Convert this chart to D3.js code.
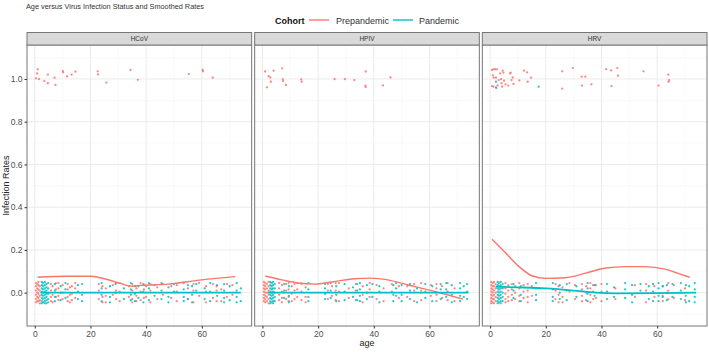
<!DOCTYPE html>
<html>
<head>
<meta charset="utf-8">
<script src="https://cdn.jsdelivr.net/npm/d3@7"></script>
<style>
  body { margin: 0; background: #fff; }
  svg { display: block; font-family: "Liberation Sans", Arial, sans-serif; }
</style>
</head>
<body>
<svg id="chart" width="709" height="352"></svg>
<script>
// facets and cohorts
var facets = ["HCoV", "HPIV", "HRV"];
var cohorts = ["Prepandemic", "Pandemic"];
var xTicks = [0, 20, 40, 60];
var yTicks = [0, 0.2, 0.4, 0.6, 0.8, 1.0];

// infected (jittered round 1) : [age, rate]
var hcovPreHigh = [[0.4,1.003],[0.8,1.026],[1.1,1.045],[1.5,0.999],[3.4,0.99],[4.7,1.02],[4.7,0.98],
  [7.1,1.006],[7.4,0.972],[10.1,1.037],[10.2,1.031],[11.6,1.012],[13.2,1.02],[14.6,1.034],
  [22.6,1.036],[22.7,1.022],[25.7,0.983],[34.4,1.042],[37,0.996],[55.3,1.023],[60.3,1.042],[60.4,1.036],[63.9,1.006]];
var hpivPreHigh = [[0.97,1.035],[1.6,0.961],[2.2,1.013],[2.8,1.007],[3.0,0.987],[4.0,1.039],[7.1,1.05],
  [7.3,0.998],[7.4,0.99],[8.4,0.972],[13.9,0.998],[14.1,0.987],[25.9,0.999],[29.6,0.999],[33,0.995],
  [37.1,1.035],[37,0.969],[37.1,0.963],[43.3,0.97],[46,1.007]];
var hrvPreHigh = [[0.7,1.042],[1.2,1.045],[1.8,1.046],[2.5,1.045],[0.95,1.017],[1.3,1.006],[2.1,1.006],
  [0.7,0.967],[1.2,0.964],[2.1,0.961],[2.7,0.97],[3.1,0.995],[3.6,1.026],[3.95,0.999],[4.1,0.98],
  [4.3,0.964],[4.5,1.039],[4.8,1.03],[5.0,0.992],[5.5,0.975],[6.5,0.969],[7.2,1.026],[7.4,1.03],
  [7.7,0.995],[8.1,1.007],[8.4,0.977],[10.5,0.993],[12.2,1.039],[13.3,1.031],[13.5,0.987],[14.7,1.006],
  [25.9,1.036],[25.9,0.955],[29.7,1.051],[32.9,1.011],[33.0,0.969],[34.2,1.011],[36.4,0.975],
  [41.7,1.046],[43.5,1.04],[43.6,0.967],[45.7,1.051],[45.9,1.015],[55.1,1.036],[60.5,0.969],
  [64.0,1.02],[64.1,0.987],[64.3,0.995]];
var hrvPanHigh = [[2.1,0.987],[2.2,0.958],[17.4,0.964]];

// not infected (jittered round 0) : [age, rate, rate, ...]
var hcovPreZero = [[0.4,.045,.03,.01,-.01,-.03,-.045],[0.9,.04,.02,0,-.02,-.04],[1.3,.05,.035,.015,-.005,-.025,-.04],
  [1.8,.03,.01,-.015,-.035,-.05],[5.8,.04,.01,-.02,-.04],[6.4,.03,-.01,-.045],[7.6,.045,.015,-.02],[8.5,.045,.02,-.015,-.035],
  [10,.035,0,-.03],[11.8,.04,.015,-.02,-.04],[12.6,.025,-.01,-.045],[13.3,.03,-.005,-.035],[14.5,.045,.02,-.025],[23,.04,.01,-.03],
  [24.3,.03,-.02,-.045],[25.5,.02,-.015,-.045],[28,.035,-.01],[29.2,.045,.01,-.03],[30.5,.045,.005,-.04],[33.8,.03,-.02],[35,.04,.01,-.03,-.045],
  [36.5,.02,-.015,-.04],[38,.045,.005,-.035],[39.2,.035,.015,-.025],[40,.03,-.02],[41.5,.04,.01,-.045],[44,.025,-.03],[46,.04,-.01],
  [49,.03,-.025],[51,.035,.005,-.04],[55,.02,-.03],[57,.04,.01,-.045],[59,.045,-.015],[61.5,.03,.005,-.045],[64,.04,-.025],
  [65.3,.03,.01,-.04],[67,.015,-.04],[69,.04,-.02],[71,.035,-.01]];
var hcovPanZero = [[2.5,.05,.035,.02,.005,-.01,-.025,-.04,-.05],[3,.045,.03,.015,0,-.015,-.03,-.045],
  [3.6,.05,.035,.02,.005,-.01,-.025,-.04,-.05],[4.2,.04,.025,.01,-.005,-.02,-.035,-.05],[4.8,.045,.02,-.005,-.03,-.045],
  [7.2,.04,.01,-.02,-.04],[9.3,.03,0,-.035],[11,.045,.015,-.025],[15.5,.035,.005,-.03],[17,.04,-.01,-.04],
  [24,.045,.02,-.01,-.04],[27,.03,-.02,-.045],[29,.04,0],[32,.02,-.03],[34.5,.045,.015,-.01,-.035],[36,.03,-.005,-.04],[37.2,.03,-.025],
  [39,.04,.005,-.045],[41,.045,.02,-.035],[43,.035,-.015],[45.5,.045,.01,-.03],[48,.025,-.02,-.045],[50,.04,.005],
  [53.5,.045,.015,-.02,-.04],[55,.035,-.03],[56.5,.03,-.01,-.045],[58,.04,.01],[61,.02,-.03],[63,.045,.005,-.04],[65.5,.035,-.015],
  [68,.04,.01,-.025,-.045],[70,.03,-.035],[72.5,.045,.01,-.02,-.045],[74,.02,-.04]];
var hpivPreZero = [[0.5,.05,.035,.02,.005,-.01,-.025,-.04],[1,.045,.03,.015,0,-.015,-.03,-.045],[1.6,.04,.02,0,-.02,-.04],
  [2.2,.05,.03,.01,-.01,-.03,-.05],[6,.045,.02,-.01,-.035],[7,.035,.005,-.025,-.045],[8.5,.04,.01,-.03],[9.4,.045,.015,-.02,-.04],
  [10.5,.03,-.005,-.04],[11.5,.04,.01,-.03],[12.5,.045,.015,-.02],[14,.04,.005,-.035],[15.5,.025,-.02,-.045],[23.5,.04,.01,-.03],
  [25,.03,-.015],[26.3,.045,.01,-.035],[27.5,.045,.005,-.04],[31,.02,-.025],[33.5,.04,.01,-.035],[36,.03,-.01,-.045],[38.5,.045,.015,-.02],
  [41,.035,-.03],[43.5,.02,-.04],[46.5,.04,.005],[49,.03,-.025],[52,.03,-.02],[54.5,.04,.01,-.04],[57,.045,.01,-.035],[60.5,.035,-.015],
  [62.5,.04,.02,-.01,-.04],[64.5,.03,-.025],[66.5,.045,.005,-.035],[69,.02,-.04]];
var hpivPanZero = [[2.8,.05,.035,.02,.005,-.01,-.025,-.04,-.05],[3.3,.045,.03,.015,0,-.015,-.03,-.045],
  [3.8,.05,.035,.02,.005,-.01,-.025,-.04,-.05],[4.4,.04,.02,0,-.02,-.04],[7.8,.04,.01,-.025],[9.5,.03,-.015,-.045],
  [16.5,.045,.015,-.02,-.04],[22.5,.04,.02,-.005,-.03],[24.5,.045,.01,-.025],[26.5,.03,-.01,-.04],[29.5,.04,.005,-.035],
  [32.5,.025,-.02],[34,.04,.01,-.035],[35,.045,.015,-.015,-.04],[37.5,.035,0,-.03],[39.5,.04,-.02],[42,.03,.005,-.045],
  [47,.035,-.01,-.04],[48,.045,.02,-.015],[50,.035,-.01,-.04],[53,.04,.01,-.03],[55.5,.02,-.045],[58.5,.04,.005,-.025],[61,.03,-.04],
  [64,.04,.015,-.03],[66,.045,.015,-.02],[68,.035,-.01,-.045],[71,.045,.02,-.015,-.04],[72.3,.03,-.02],[73.5,.04,.005,-.03]];
var hrvPreZero = [[0.4,.05,.035,.02,.005,-.01,-.025,-.04,-.05],[0.9,.045,.03,.015,0,-.015,-.03,-.045],
  [1.4,.05,.03,.01,-.01,-.03,-.05],[2,.04,.02,0,-.02,-.04],[5.5,.045,.02,-.005,-.03,-.045],[6.5,.035,.01,-.02,-.04],
  [7.8,.04,.015,-.01,-.035],[9,.03,0,-.03],[10.5,.045,.02,-.015,-.04],[12,.035,.005,-.025],[13.5,.04,.01,-.02,-.045],
  [15,.03,-.015],[23.5,.04,.01,-.03],[24.6,.03,-.01,-.045],[26,.025,-.02,-.045],[28.5,.045,.005],[30.5,.035,-.03],[33,.04,.015,-.015,-.04],
  [34.5,.03,0,-.035],[36,.045,.02,-.01,-.045],[37,.035,.005,-.03],[38,.035,-.025],[40,.04,.005,-.04],[45,.02,-.03],[52,.035,-.02],
  [56,.04,.01,-.045],[59,.03,-.02],[62,.03,-.015,-.04],[64,.045,.01,-.03],[66,.035,-.025],[70,.02,-.035]];
var hrvPanZero = [[2.7,.05,.035,.02,.005,-.01,-.025,-.04,-.05],[3.2,.045,.03,.015,0,-.015,-.03,-.045],
  [3.8,.05,.035,.02,.005,-.01,-.025,-.04,-.05],[4.5,.04,.02,0,-.02,-.04],[8.4,.04,.01,-.025],[11,.03,-.01,-.04],
  [16.5,.045,.02,-.01,-.035],[22.5,.045,.015,-.02,-.04],[25,.035,0,-.03],[27.5,.04,.01,-.035],[31,.03,-.02],
  [35,.045,.02,-.005,-.04],[37.5,.035,-.015],[42,.04,.005,-.03],[44.5,.025,-.02],[48.5,.045,.015,-.025],
  [51,.035,-.01,-.045],[54,.04,.01],[57,.03,-.03],[58.5,.04,.005,-.04],[60.5,.045,.02,-.015,-.04],[62,.03,-.02],[63.5,.035,0,-.035],[65.5,.04,-.02],
  [68.5,.045,.01,-.03],[70.3,.035,-.015,-.045],[71.5,.03,-.04],[73.5,.045,.015,-.02,-.045]];

// smoothed rates : [age, rate]
var hcovPreSmooth = [[1,0.072],[11.6,0.077],[20,0.077],[27,0.058],[31,0.042],[35,0.03],[38,0.034],[48,0.04],[60,0.06],[72,0.075]];
var hcovPanSmooth = [[2,0],[74,0]];
var hpivPreSmooth = [[1,0.078],[7,0.06],[13,0.045],[19,0.04],[25,0.05],[33,0.065],[39,0.068],[45,0.06],[52,0.037],[60,0.012],[67,-0.012],[72,-0.03]];
var hpivPanSmooth = [[2,0],[74,0]];
var hrvPreSmooth = [[0.7,0.25],[5.7,0.184],[10.4,0.122],[15.2,0.078],[20,0.067],[27,0.07],[34,0.09],[41,0.114],[48.5,0.122],[55.6,0.122],[62.8,0.11],[67.5,0.09],[71.7,0.072]];
var hrvPanSmooth = [[2,0.028],[10,0.025],[20,0.02],[30,0.01],[38,0.0],[45,-0.003],[60,-0.002],[74,0.0]];

var highs = { HCoV: [hcovPreHigh, []], HPIV: [hpivPreHigh, []], HRV: [hrvPreHigh, hrvPanHigh] };
var zeros = { HCoV: [hcovPreZero, hcovPanZero], HPIV: [hpivPreZero, hpivPanZero], HRV: [hrvPreZero, hrvPanZero] };
var smooths = { HCoV: [hcovPreSmooth, hcovPanSmooth], HPIV: [hpivPreSmooth, hpivPanSmooth], HRV: [hrvPreSmooth, hrvPanSmooth] };

var colors = ["#F8766D", "#00BFC4"];

var svg = d3.select("#chart");
var margin = { top: 45, left: 27, right: 2, bottom: 26 },
  stripH = 12.5, gap = 3,
  plotW = 709 - margin.left - margin.right,
  panelW = (plotW - 2 * gap) / 3,
  panelH = 352 - margin.top - margin.bottom;

var x = d3.scaleLinear().domain([-2.8, 77.9]).range([0, panelW]);
var y = d3.scaleLinear().domain([-0.156, 1.159]).range([panelH, 0]);

// title
svg.append("text").attr("x", 26).attr("y", 9).attr("font-size", 7.3).attr("fill", "#333")
  .text("Age versus Virus Infection Status and Smoothed Rates");

// legend
var lg = svg.append("g").attr("transform", "translate(0,20)");
lg.append("text").attr("x", 275).attr("y", 3.5).attr("font-size", 9).attr("font-weight", "bold").attr("fill", "#111").text("Cohort");
var legX = [[309, 336], [393, 419]];
cohorts.forEach(function (c, i) {
  lg.append("line").attr("x1", legX[i][0]).attr("x2", legX[i][0] + 20).attr("y1", 0).attr("y2", 0)
    .attr("stroke", colors[i]).attr("stroke-width", 1.4);
  lg.append("text").attr("x", legX[i][1]).attr("y", 3.5).attr("font-size", 9).attr("fill", "#333").text(c);
});

var line = d3.line().x(function (d) { return x(d[0]); }).y(function (d) { return y(d[1]); }).curve(d3.curveMonotoneX);

facets.forEach(function (f, fi) {
  var g = svg.append("g").attr("transform", "translate(" + (margin.left + fi * (panelW + gap)) + "," + margin.top + ")");

  // grid
  var minorX = [10, 30, 50, 70], minorY = [-0.1, 0.1, 0.3, 0.5, 0.7, 0.9, 1.1];
  g.selectAll(".mx").data(minorX).enter().append("line")
    .attr("x1", x).attr("x2", x).attr("y1", 0).attr("y2", panelH).attr("stroke", "#F4F4F4").attr("stroke-width", 0.5);
  g.selectAll(".my").data(minorY).enter().append("line")
    .attr("x1", 0).attr("x2", panelW).attr("y1", y).attr("y2", y).attr("stroke", "#F4F4F4").attr("stroke-width", 0.5);
  g.selectAll(".gx").data(xTicks).enter().append("line")
    .attr("x1", x).attr("x2", x).attr("y1", 0).attr("y2", panelH).attr("stroke", "#EBEBEB").attr("stroke-width", 1);
  g.selectAll(".gy").data(yTicks).enter().append("line")
    .attr("x1", 0).attr("x2", panelW).attr("y1", y).attr("y2", y).attr("stroke", "#EBEBEB").attr("stroke-width", 1);

  // points
  [0, 1].forEach(function (ci) {
    var pts = highs[f][ci].slice();
    zeros[f][ci].forEach(function (col) {
      col.slice(1).forEach(function (v) { pts.push([col[0], v]); });
    });
    g.append("g").selectAll("circle").data(pts).enter().append("circle")
      .attr("cx", function (d) { return x(d[0]); })
      .attr("cy", function (d) { return y(d[1]); })
      .attr("r", 1.15).attr("fill", colors[ci]).attr("opacity", 0.85);
  });

  // smoothed rates
  [0, 1].forEach(function (ci) {
    g.append("path").datum(smooths[f][ci]).attr("d", line)
      .attr("fill", "none").attr("stroke", colors[ci]).attr("stroke-width", ci === 1 ? 1.8 : 1.4);
  });

  // border
  g.append("rect").attr("x", 0).attr("y", 0).attr("width", panelW).attr("height", panelH)
    .attr("fill", "none").attr("stroke", "#777").attr("stroke-width", 1);

  // strip
  g.append("rect").attr("x", 0).attr("y", -stripH).attr("width", panelW).attr("height", stripH)
    .attr("fill", "#D9D9D9").attr("stroke", "#777").attr("stroke-width", 1);
  g.append("text").attr("x", panelW / 2).attr("y", -stripH / 2 + 2.3).attr("text-anchor", "middle")
    .attr("font-size", 6.5).attr("fill", "#333").text(f);

  // x axis
  var xa = g.append("g").attr("transform", "translate(0," + panelH + ")")
    .call(d3.axisBottom(x).tickValues(xTicks).tickSize(2.5).tickPadding(2).tickFormat(d3.format("d")));
  xa.select(".domain").remove();
  xa.selectAll("line").attr("stroke", "#333");
  xa.selectAll("text").attr("font-size", 8.5).attr("fill", "#4D4D4D").attr("font-family", "Liberation Sans, Arial, sans-serif");

  if (fi === 0) {
    var ya = g.append("g").call(d3.axisLeft(y).tickValues(yTicks).tickSize(2.5).tickPadding(2).tickFormat(d3.format(".1f")));
    ya.select(".domain").remove();
    ya.selectAll("line").attr("stroke", "#333");
    ya.selectAll("text").attr("font-size", 8.5).attr("fill", "#4D4D4D").attr("font-family", "Liberation Sans, Arial, sans-serif");
  }
});

// axis titles
svg.append("text").attr("x", margin.left + plotW / 2).attr("y", 346).attr("text-anchor", "middle")
  .attr("font-size", 9).attr("fill", "#222").text("age");
svg.append("text").attr("transform", "translate(9," + (margin.top + panelH / 2) + ") rotate(-90)")
  .attr("text-anchor", "middle").attr("font-size", 9).attr("fill", "#222").text("Infection Rates");
</script>
</body>
</html>
